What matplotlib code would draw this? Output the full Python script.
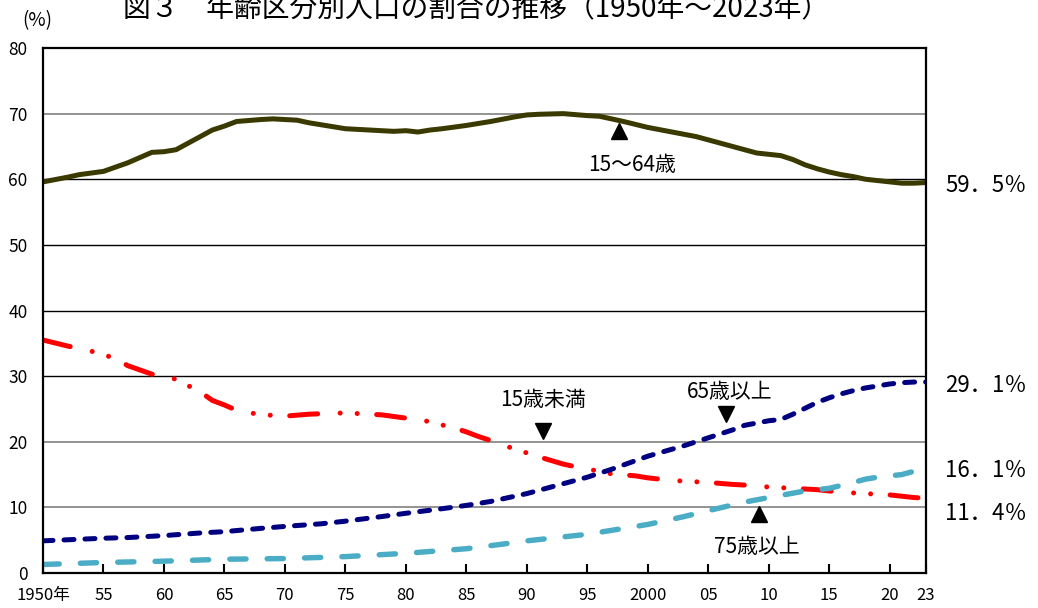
import matplotlib
matplotlib.use("Agg")
import matplotlib.pyplot as plt

plt.rcParams['font.family'] = ['Noto Sans CJK JP', 'DejaVu Sans']

# ---------------- data ----------------
title = "図３　年齢区分別人口の割合の推移（1950年～2023年）"

years_1564 = [1950, 1952, 1953, 1955, 1957, 1959, 1960, 1961, 1963, 1964, 1965, 1966,
              1968, 1969, 1970, 1971, 1972, 1973, 1975, 1977, 1979, 1980, 1981, 1982,
              1983, 1985, 1987, 1989, 1990, 1991, 1993, 1995, 1996, 1998, 2000, 2002,
              2004, 2005, 2007, 2009, 2010, 2011, 2012, 2013, 2014, 2015, 2016, 2017,
              2018, 2019, 2020, 2021, 2022, 2023]
vals_1564 = [59.6, 60.3, 60.7, 61.2, 62.5, 64.1, 64.2, 64.5, 66.5, 67.5, 68.1, 68.8,
             69.1, 69.2, 69.1, 69.0, 68.6, 68.3, 67.7, 67.5, 67.3, 67.4, 67.2, 67.5,
             67.7, 68.2, 68.8, 69.5, 69.8, 69.9, 70.0, 69.7, 69.6, 68.8, 67.9, 67.2,
             66.5, 66.0, 65.0, 64.0, 63.8, 63.6, 63.0, 62.2, 61.6, 61.1, 60.7, 60.4,
             60.0, 59.8, 59.6, 59.4, 59.4, 59.5]

years_u15 = [1950, 1952, 1953, 1954, 1956, 1957, 1959, 1960, 1961, 1963, 1964, 1965,
             1966, 1967, 1969, 1970, 1972, 1975, 1977, 1978, 1980, 1981, 1982, 1984,
             1985, 1986, 1987, 1988, 1990, 1991, 1993, 1994, 1996, 1997, 1999, 2000,
             2002, 2004, 2005, 2007, 2008, 2010, 2012, 2014, 2016, 2017, 2019, 2020,
             2022, 2023]
vals_u15 = [35.5, 34.6, 34.2, 33.8, 32.7, 31.6, 30.3, 30.1, 29.5, 27.6, 26.3, 25.6,
            24.8, 24.4, 24.0, 23.9, 24.2, 24.4, 24.2, 24.1, 23.6, 23.5, 23.0, 22.1,
            21.5, 20.8, 20.2, 19.5, 18.3, 17.7, 16.6, 16.2, 15.5, 15.1, 14.8, 14.5,
            14.1, 13.9, 13.8, 13.5, 13.4, 13.1, 12.9, 12.7, 12.3, 12.2, 12.0, 11.9,
            11.5, 11.4]

years_65 = [1950, 1955, 1957, 1960, 1963, 1965, 1968, 1970, 1973, 1975, 1978, 1980,
            1983, 1985, 1987, 1990, 1992, 1995, 1997, 2000, 2003, 2005, 2007, 2008,
            2010, 2011, 2012, 2013, 2014, 2015, 2016, 2017, 2018, 2019, 2020, 2021,
            2022, 2023]
vals_65 = [4.9, 5.3, 5.4, 5.7, 6.1, 6.3, 6.8, 7.1, 7.5, 7.9, 8.6, 9.1,
           9.8, 10.3, 10.9, 12.1, 13.1, 14.6, 15.8, 17.8, 19.4, 20.6, 21.8, 22.5,
           23.2, 23.4, 24.2, 25.1, 26.0, 26.7, 27.3, 27.8, 28.2, 28.5, 28.8, 29.0,
           29.1, 29.1]

years_75 = [1950, 1955, 1960, 1965, 1970, 1975, 1980, 1985, 1988, 1990, 1995, 2000,
            2003, 2005, 2008, 2010, 2013, 2015, 2017, 2018, 2019, 2020, 2021, 2022,
            2023]
vals_75 = [1.3, 1.6, 1.8, 2.1, 2.2, 2.5, 3.0, 3.7, 4.4, 4.9, 5.9, 7.4,
           8.6, 9.5, 10.8, 11.5, 12.5, 12.9, 13.8, 14.3, 14.6, 14.8, 15.0, 15.5,
           16.1]

x_ticks = [1950, 1955, 1960, 1965, 1970, 1975, 1980, 1985, 1990, 1995, 2000,
           2005, 2010, 2015, 2020, 2023]
x_tick_labels = ["1950年", "55", "60", "65", "70", "75", "80", "85", "90", "95",
                 "2000", "05", "10", "15", "20", "23"]
y_ticks = [0, 10, 20, 30, 40, 50, 60, 70, 80]

series_labels = ["15～64歳", "15歳未満", "65歳以上", "75歳以上"]
end_labels = ["59．5％", "29．1％", "16．1％", "11．4％"]

# ---------------- figure ----------------
fig = plt.figure(figsize=(10.38, 6.08), dpi=100)
ax = fig.add_axes([43/1038, 1-573/608, (926-43)/1038, (573-48)/608])
ax.set_xlim(1950, 2023)
ax.set_ylim(0, 80)

# grid lines
grid_colors = {10: '#808080', 20: '#808080', 30: 'black', 40: 'black',
               50: 'black', 60: 'black', 70: '#808080'}
for lv, c in grid_colors.items():
    ax.axhline(lv, color=c, lw=1.0 if c == 'black' else 1.2, zorder=1)

lw = 3.6
ax.plot(years_1564, vals_1564, color='#3a3a00', lw=lw, solid_capstyle='round',
        solid_joinstyle='round', zorder=3)
ax.plot(years_u15, vals_u15, color='#ff0000', lw=lw,
        linestyle=(0, (5.6, 4.5, 0.01, 3.4, 0.01, 3.9)),
        dash_capstyle='round', zorder=3)
ax.plot(years_65, vals_65, color='#000080', lw=lw,
        linestyle=(0, (2.0, 2.2)), dash_capstyle='round', zorder=4)
ax.plot(years_75, vals_75, color='#4bacc6', lw=3.9,
        linestyle=(0, (3.0, 3.9)), dash_capstyle='round', zorder=5)

# spines / ticks
for s in ax.spines.values():
    s.set_linewidth(1.6)
    s.set_color('black')
    s.set_zorder(6)
ax.set_xticks(x_ticks)
ax.set_xticklabels(x_tick_labels)
ax.set_yticks(y_ticks)
ax.tick_params(axis='x', direction='in', length=6.5, width=1.5, pad=10, labelsize=12)
ax.tick_params(axis='y', length=0, pad=11, labelsize=12.5)

# annotations (text + triangles)
ax.text(1998.7, 62.2, series_labels[0], ha='center', va='center', fontsize=15)
ax.plot([1997.6], [67.4], marker='^', color='black', ms=11, ls='none', zorder=7)
ax.text(1991.3, 26.3, series_labels[1], ha='center', va='center', fontsize=15)
ax.plot([1991.3], [21.7], marker='v', color='black', ms=11, ls='none', zorder=7)
ax.text(2006.8, 27.6, series_labels[2], ha='center', va='center', fontsize=15)
ax.plot([2006.5], [24.3], marker='v', color='black', ms=11, ls='none', zorder=7)
ax.text(2009.0, 3.9, series_labels[3], ha='center', va='center', fontsize=15)
ax.plot([2009.2], [9.0], marker='^', color='black', ms=11, ls='none', zorder=7)

# end labels
for lab, yv in zip(end_labels, [59.0, 28.6, 15.6, 9.1]):
    ax.text(2024.6, yv, lab, ha='left', va='center', fontsize=16, clip_on=False)

fig.text(476/1038, 1-9/608, title, ha='center', va='center', fontsize=20)
fig.text(37/1038, 1-21/608, "(%)", ha='center', va='center', fontsize=13.5)

fig.savefig("out.png", dpi=100)
